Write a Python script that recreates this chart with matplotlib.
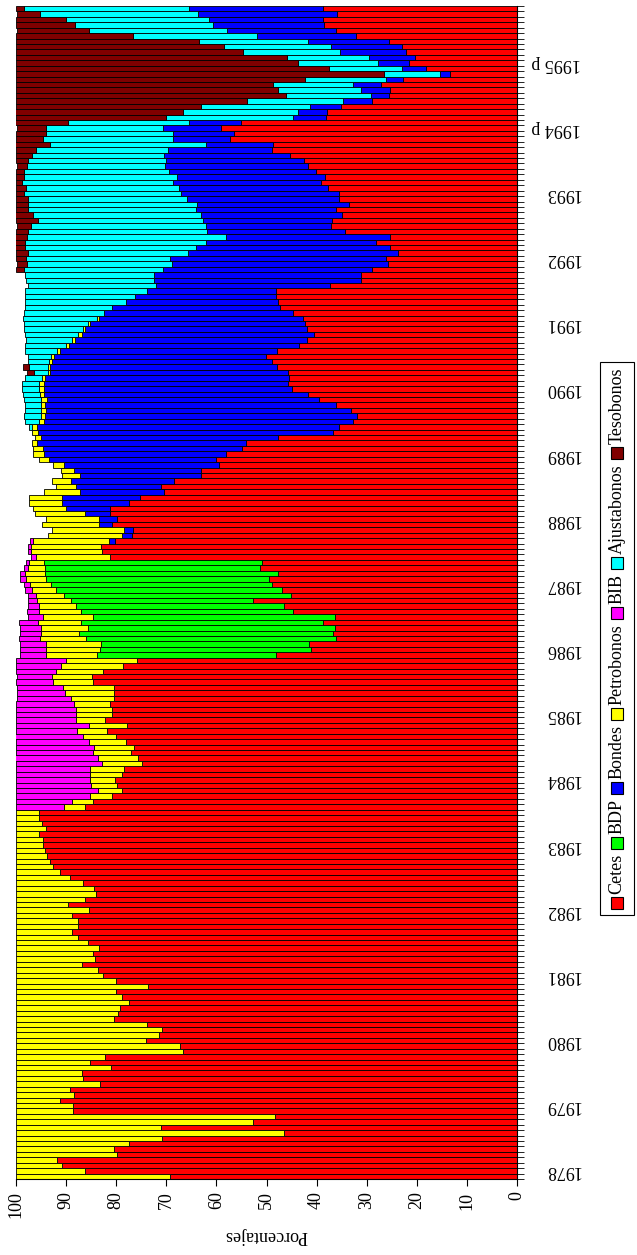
import numpy as np
import matplotlib
matplotlib.use('Agg')
import matplotlib.pyplot as plt
from matplotlib.patches import Rectangle

plt.rcParams['font.family'] = ['Liberation Serif', 'DejaVu Serif']

# monthly shares (%) of the government securities stock, Dec 1977 .. Nov 1995
cetes = [69.2, 86.2, 90.8, 91.9,
         79.9, 80.5, 77.5, 70.8, 46.5, 71.0, 52.6, 48.3, 88.6, 88.6, 91.3, 88.4, 89.3, 83.2, 86.6, 86.9, 81.1, 85.2, 82.3, 66.6, 67.2, 74.0,
         71.5, 70.8, 73.9, 80.5, 79.7, 79.2, 77.5, 78.9, 80.1, 73.6, 80.1, 82.7, 83.6, 86.9, 84.2, 84.6, 83.4, 85.6, 87.7, 88.9, 87.7,
         87.7, 88.9, 85.4, 89.6, 86.2, 84.0, 84.4, 86.6, 89.2, 91.2, 92.7, 93.3, 93.9, 94.2, 94.7, 94.7, 95.4, 94.1, 94.9, 95.4, 95.4,
         86.2, 84.6, 80.9, 78.9, 79.9, 80.3, 78.9, 78.5, 74.9, 75.7, 77.1, 76.5, 78.1, 80.0, 81.9, 77.9, 82.2, 80.9, 80.9, 81.3, 80.5, 80.5,
         80.5, 84.6, 84.8, 82.7, 78.7, 75.8, 48.1, 41.2, 41.6, 36.1, 36.7, 36.3, 38.8, 36.3, 44.8, 46.6, 52.6, 45.1, 47.0, 48.9, 49.6,
         47.7, 51.3, 50.9, 81.3, 82.8, 83.0, 80.3, 76.9, 76.6, 80.8, 79.9, 81.3, 81.3, 77.5, 75.3, 70.4, 71.0, 68.4, 63.1, 63.1, 59.4,
         60.0, 58.1, 54.8, 54.0, 47.7, 36.7, 35.5, 32.8, 32.0, 33.1, 36.1, 39.6, 41.8, 45.0, 45.7, 45.5, 45.8, 47.9, 48.9, 50.1, 47.9,
         43.5, 42.0, 40.6, 42.0, 42.3, 42.8, 44.8, 47.3, 47.7, 48.1, 48.1, 37.4, 31.1, 31.1, 28.9, 25.8, 26.2, 23.8, 25.4, 28.1, 25.4, 34.3,
         37.1, 36.9, 35.0, 36.1, 33.5, 35.5, 35.5, 37.7, 39.2, 38.4, 40.1, 41.8, 42.6, 45.4, 48.9, 48.7, 57.2, 56.4, 59.0, 55.0, 38.1,
         37.9, 35.1, 28.9, 25.5, 25.4, 27.2, 22.7, 13.4, 18.1, 21.6, 20.4, 22.1, 23.0, 25.5, 32.1, 36.1, 38.5, 38.8, 35.9, 38.8]

bdp = [0] * 96 + [35.8, 42.0, 41.5, 49.9, 50.7, 49.3, 48.3, 48.3, 42.2, 41.4, 36.5, 45.3, 45.1, 44.2, 44.5, 46.6, 43.0, 43.6] + [0] * 102

bondes = [0] * 117 + [1.1, 2.0, 1.9, 2.6, 3.5, 4.9, 8.8, 13.3, 15.6, 16.9, 17.0, 20.7, 24.2, 25.3, 31.0, 33.5, 36.4, 39.9, 41.8, 47.4, 59.0,
                      60.3, 61.6, 62.3, 61.0, 58.2, 54.3, 52.6, 49.5, 48.8, 48.7, 47.4, 45.3, 44.0, 42.3, 43.4, 46.0, 46.2, 46.3, 44.2, 43.0, 40.6,
                      37.7, 33.5, 30.3, 28.2, 25.8, 34.6, 41.4, 41.4, 41.8, 43.1, 43.0, 41.9, 38.7, 34.0, 32.7, 27.6,
                      24.9, 25.8, 28.0, 28.0, 30.4, 30.4, 31.6, 29.7, 29.4, 29.4, 29.4, 28.5, 27.4, 25.0, 20.7, 13.4, 11.4, 12.2, 11.6, 10.4, 6.6,
                      5.8, 6.3, 5.8, 3.7, 5.7, 5.5, 3.5, 2.0, 4.9, 6.1, 9.1, 13.2, 14.2, 16.3, 19.8, 21.7, 22.1, 22.7, 27.7, 26.6]

petrobonos = [30.8, 13.8, 9.2, 8.1,
              20.1, 19.5, 22.5, 29.2, 53.5, 29.0, 47.4, 51.7, 11.4, 11.4, 8.7, 11.6, 10.7, 16.8, 13.4, 13.1, 18.9, 14.8, 17.7, 33.4, 32.8, 26.0,
              28.5, 29.2, 26.1, 19.5, 20.3, 20.8, 22.5, 21.1, 19.9, 26.4, 19.9, 17.3, 16.4, 13.1, 15.8, 15.4, 16.6, 14.4, 12.3, 11.1, 12.3,
              12.3, 11.1, 14.6, 10.4, 13.8, 16.0, 15.6, 13.4, 10.8, 8.8, 7.3, 6.7, 6.1, 5.8, 5.3, 5.3, 4.6, 5.9, 5.1, 4.6, 4.6,
              4.3, 4.2, 4.3, 4.7, 5.1, 4.9, 6.3, 6.7, 7.9, 7.9, 7.5, 7.9, 7.3, 6.7, 5.9, 7.5, 5.8, 7.1, 7.1, 7.1, 8.5, 9.7,
              10.1, 8.1, 8.0, 9.4, 12.4, 14.3,
              10.2, 10.9, 11.0, 9.2, 7.7, 9.5, 8.5, 10.1, 8.4, 7.5, 6.7, 5.7, 4.8, 4.1, 3.9, 3.9, 3.4, 3.0,
              14.8, 14.2, 14.0, 15.2, 14.8, 14.4, 11.5, 10.7, 10.1, 6.5, 6.6, 6.6, 7.1, 4.0, 3.8, 3.6, 2.7, 2.3, 1.9, 2.1, 2.0, 1.1, 1.2, 1.1,
              1.0, 1.1, 0.8, 0.9, 0.8, 1.1, 0.9, 0.9, 0.9, 0.6, 0.4, 0.4, 0.6, 0.6, 0.6, 0.6, 0.6, 0.7, 0.4, 0.3, 0.4] + [0] * 57

bib = [0] * 68 + [9.5, 11.2, 14.8, 16.4, 15.0, 14.8, 14.8, 14.8, 17.2, 16.5, 15.4, 15.6, 14.6, 13.4, 12.2, 14.6, 12.0, 12.0, 12.0, 11.6,
                  10.9, 9.7, 9.3, 7.3, 7.1, 7.9, 8.9, 9.9,
                  5.2, 5.2, 5.2, 4.2, 4.2, 4.2, 3.8, 3.0, 2.4, 2.2, 1.9, 1.6, 1.3, 1.2, 1.2, 1.0, 0.8, 0.6, 1.0, 0.7, 0.7, 0.6] + [0] * 98

ajustabonos = [0] * 138 + [0.6, 2.7, 3.4, 3.2, 3.1, 3.4, 3.4, 3.4, 3.4, 3.5, 2.9, 3.9, 4.2, 4.6, 6.3, 8.2, 9.2, 10.6, 11.9, 12.8, 14.8,
                           16.0, 17.4, 20.3, 21.9, 24.3, 25.7, 25.5, 25.8, 27.7, 29.0, 28.8, 32.0, 34.1, 36.1, 39.7, 35.7,
                           35.1, 33.0, 33.6, 33.5, 33.7, 31.8, 31.4, 30.7, 30.2, 30.7, 29.0, 27.6, 27.7, 26.5, 26.5, 31.1, 26.1, 25.5, 23.4, 24.3, 25.3,
                           23.0, 21.7, 19.2, 17.0, 16.6, 16.0, 16.2, 11.2, 14.6, 16.1, 16.4, 19.4, 21.3, 21.7, 24.8, 27.7, 27.6, 28.5, 31.7, 33.0]

tesobonos = [0] * 148 + [1.4, 1.1] + [0] * 17 + [1.6, 2.0, 2.0, 2.3, 1.9, 1.9, 2.3, 2.4,
                                               2.8, 4.3, 3.5, 2.4, 2.4, 2.3, 1.5, 1.9, 1.2, 1.5, 1.5, 2.0, 2.3, 3.1, 3.9, 6.9, 5.3, 5.9, 5.9, 10.4, 30.0,
                                               33.4, 36.9, 46.1, 53.8, 52.3, 51.3, 57.6, 73.4, 62.4, 56.2, 54.1, 45.3, 41.5, 36.5, 23.3, 14.4, 11.8, 10.0, 4.6, 1.6]

years = ['1978', '1979', '1980', '1981', '1982', '1983', '1984', '1985', '1986',
         '1987', '1988', '1989', '1990', '1991', '1992', '1993', '1994 p', '1995 p']

series = [('Cetes', cetes, '#ff0000'),
          ('BDP', bdp, '#00ff00'),
          ('Bondes', bondes, '#0000ff'),
          ('Petrobonos', petrobonos, '#ffff00'),
          ('BIB', bib, '#ff00ff'),
          ('Ajustabonos', ajustabonos, '#00ffff'),
          ('Tesobonos', tesobonos, '#800000')]

W, H = 637, 1255
fig = plt.figure(figsize=(W / 100, H / 100), dpi=100)
ax = fig.add_axes([16 / W, 76 / H, 501 / W, 1173 / H])

n = len(cetes)
idx = np.arange(n)
base = np.zeros(n)
for name, vals, col in series:
    v = np.array(vals, dtype=float)
    m = v > 0
    ax.barh(idx[m], v[m], left=base[m], height=1.0, color=col,
            edgecolor='black', linewidth=0.6)
    base += v

ax.set_xlim(100, 0)
ax.set_ylim(-0.5, n - 0.5)
for s in ['top', 'left']:
    ax.spines[s].set_visible(False)

ax.set_xticks(range(0, 101, 10))
ax.tick_params(axis='x', direction='out', length=5, pad=4, labelsize=13, labelrotation=90)
ax.set_xlabel('Porcentajes', rotation=180, fontsize=13, labelpad=6)

ax.yaxis.tick_right()
ax.set_yticks(np.arange(-0.5, n, 1), minor=True)
ax.set_yticks([12 * k + 1 for k in range(len(years))])
ax.set_yticklabels(years)
ax.tick_params(axis='y', which='minor', direction='out', length=5, right=True, left=False)
ax.tick_params(axis='y', which='major', length=0, pad=46, labelsize=13)
for lab in ax.get_yticklabels():
    lab.set_rotation(180)
    lab.set_ha('right')
    lab.set_va('center')

# legend drawn sideways, like the rest of the chart
renderer = fig.canvas.get_renderer()
xc = 617
sq = 12
box_bottom = H - 915
y = box_bottom + 6
for name, vals, col in series:
    fig.patches.append(Rectangle(((xc - sq / 2) / W, y / H), sq / W, sq / H,
                                 transform=fig.transFigure, facecolor=col,
                                 edgecolor='black', linewidth=0.8))
    y += sq + 3
    t = fig.text(xc / W, y / H, name, rotation=90, ha='center', va='bottom', fontsize=13)
    y += t.get_window_extent(renderer).height + 5
fig.patches.append(Rectangle((600 / W, box_bottom / H), 34 / W, (y + 1 - box_bottom) / H,
                             transform=fig.transFigure, facecolor='none',
                             edgecolor='black', linewidth=0.8))

fig.savefig('out.png', dpi=100)
